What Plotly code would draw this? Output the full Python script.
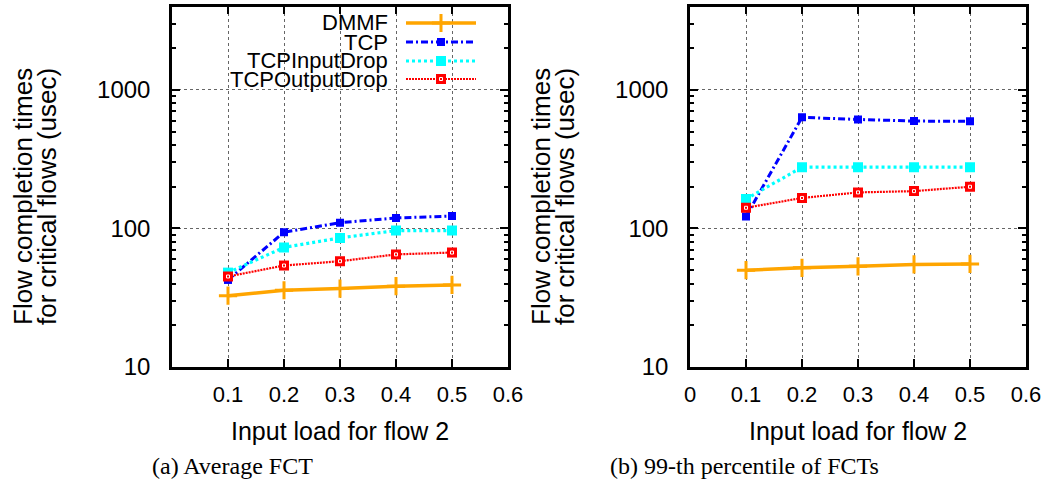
import math
import plotly.graph_objects as go

# ---------------- data ----------------
loads = [0.1, 0.2, 0.3, 0.4, 0.5]
series_names = ["DMMF", "TCP", "TCPInputDrop", "TCPOutputDrop"]

avg_dmmf = [32.7, 35.8, 36.8, 38.3, 39.1]
avg_tcp = [42.5, 94, 110, 119, 123]
avg_tcp_in = [48, 73, 85.5, 96.5, 96.5]
avg_tcp_out = [45, 54, 58, 65, 67]

p99_dmmf = [50, 52, 53.3, 55, 55.5]
p99_tcp = [122, 634, 612, 596, 593]
p99_tcp_in = [163, 277, 277, 277, 277]
p99_tcp_out = [141, 166, 182, 186, 200]

x_ticks_a = [0.1, 0.2, 0.3, 0.4, 0.5, 0.6]
x_ticks_b = [0, 0.1, 0.2, 0.3, 0.4, 0.5, 0.6]
y_ticks = [10, 100, 1000]
y_minor = [20, 30, 40, 50, 60, 70, 80, 90, 200, 300, 400, 500, 600, 700, 800, 900, 2000, 3000, 4000]

x_title = "Input load for flow 2"
y_title_1 = "Flow completion times"
y_title_2 = "for critical flows (usec)"
caption_a = "(a) Average FCT"
caption_b = "(b) 99-th percentile of FCTs"

# ---------------- styles ----------------
W, H = 1055, 491
SANS = "Liberation Sans, Arial, sans-serif"
SERIF = "Liberation Serif, Times New Roman, serif"

styles = {
    "DMMF": dict(color="#FFA500", width=3.5, dash="solid", symbol="cross-thin", size=13),
    "TCP": dict(color="#0000FF", width=3, dash="7px,3px,2px,3px", symbol="square", size=8),
    "TCPInputDrop": dict(color="#00FFFF", width=3.2, dash="3px,3px", symbol="square", size=10),
    "TCPOutputDrop": dict(color="#FF0000", width=2.2, dash="2px,1px", symbol="square", size=10),
}


def px_x(p):
    return p / W


def px_y(p):
    return 1 - p / H


def marker_for(s):
    if s["symbol"] == "cross-thin":
        return dict(symbol="cross-thin", size=s["size"], line=dict(color=s["color"], width=3), color=s["color"])
    return dict(symbol=s["symbol"], size=s["size"], color=s["color"], line=dict(width=0))


fig = go.Figure()


def add_series(name, xs, ys, xa, ya):
    s = styles[name]
    fig.add_trace(go.Scatter(
        x=xs, y=ys, mode="lines+markers", name=name, showlegend=False,
        line=dict(color=s["color"], width=s["width"], dash=s["dash"]),
        marker=marker_for(s), xaxis=xa, yaxis=ya,
    ))
    if name == "TCPOutputDrop":
        fig.add_trace(go.Scatter(
            x=xs, y=ys, mode="markers", showlegend=False, hoverinfo="skip",
            marker=dict(symbol="square-open", size=3, color="white", line=dict(color="white", width=1)),
            xaxis=xa, yaxis=ya,
        ))


panel_a = [avg_dmmf, avg_tcp, avg_tcp_in, avg_tcp_out]
panel_b = [p99_dmmf, p99_tcp, p99_tcp_in, p99_tcp_out]
for name, ys in zip(series_names, panel_a):
    add_series(name, loads, ys, "x", "y")
for name, ys in zip(series_names, panel_b):
    add_series(name, loads, ys, "x2", "y2")

# ---------------- custom gnuplot-style legend (text left, sample right) ----------------
legend_rows = [23, 42, 61, 79]
for name, row in zip(series_names, legend_rows):
    s = styles[name]
    fig.add_trace(go.Scatter(
        x=[0, 1], y=[row, row], mode="lines", showlegend=False, hoverinfo="skip",
        line=dict(color=s["color"], width=s["width"], dash=s["dash"]),
        xaxis="x3", yaxis="y3",
    ))
    fig.add_trace(go.Scatter(
        x=[0.5], y=[row], mode="markers", showlegend=False, hoverinfo="skip",
        marker=marker_for(s), xaxis="x3", yaxis="y3",
    ))
    if name == "TCPOutputDrop":
        fig.add_trace(go.Scatter(
            x=[0.5], y=[row], mode="markers", showlegend=False, hoverinfo="skip",
            marker=dict(symbol="square-open", size=3, color="white", line=dict(color="white", width=1)),
            xaxis="x3", yaxis="y3",
        ))
    fig.add_annotation(
        x=px_x(389), y=px_y(row), xref="paper", yref="paper",
        xanchor="right", yanchor="middle", text=name, showarrow=False, borderpad=0,
        font=dict(family=SANS, size=22, color="black"),
    )

# ---------------- axes ----------------
common_x = dict(
    range=[0, 0.6], showline=True, linecolor="black", linewidth=2.5, mirror="ticks",
    ticks="inside", ticklen=8, tickwidth=2, tickcolor="black", automargin=False,
    showgrid=True, gridcolor="#666666", griddash="dot", gridwidth=1, zeroline=False,
    tickfont=dict(family=SANS, size=22, color="black"), ticklabelstandoff=6,
)
common_y = dict(
    type="log", range=[1, math.log10(4000)], showline=True, linecolor="black", linewidth=2.5,
    mirror="ticks", ticks="inside", ticklen=8, tickwidth=2, tickcolor="black", automargin=False,
    tickvals=y_ticks, ticktext=[str(v) for v in y_ticks],
    minor=dict(tickvals=y_minor, ticks="inside", ticklen=4, tickwidth=1.5, tickcolor="black", showgrid=False),
    showgrid=True, gridcolor="#666666", griddash="dot", gridwidth=1, zeroline=False,
    tickfont=dict(family=SANS, size=24, color="black"), ticklabelstandoff=14,
)

y_dom = [px_y(367), px_y(6.5)]
fig.update_layout(
    width=W, height=H, margin=dict(l=0, r=0, t=0, b=0, autoexpand=False),
    paper_bgcolor="white", plot_bgcolor="rgba(0,0,0,0)", showlegend=False,
    xaxis=dict(common_x, domain=[px_x(172), px_x(508)], tickvals=x_ticks_a,
               ticktext=[str(v) for v in x_ticks_a], anchor="y"),
    yaxis=dict(common_y, domain=y_dom, anchor="x"),
    xaxis2=dict(common_x, domain=[px_x(690), px_x(1026)], tickvals=x_ticks_b,
                ticktext=[str(v) for v in x_ticks_b], anchor="y2"),
    yaxis2=dict(common_y, domain=y_dom, anchor="x2"),
    xaxis3=dict(domain=[px_x(406), px_x(476)], range=[0, 1], visible=False, anchor="y3",
                fixedrange=True, automargin=False),
    yaxis3=dict(domain=[0, 1], range=[H, 0], visible=False, anchor="x3", fixedrange=True,
                automargin=False),
)

# ---------------- titles & captions ----------------
for off in (0, 518):
    fig.add_annotation(x=px_x(340 + off), y=px_y(431), xref="paper", yref="paper",
                       text=x_title, showarrow=False, xanchor="center", yanchor="middle",
                       font=dict(family=SANS, size=25, color="black"))
    fig.add_annotation(x=px_x(23 + off), y=px_y(197), xref="paper", yref="paper",
                       text=y_title_1, showarrow=False, textangle=-90, xanchor="center", yanchor="middle",
                       font=dict(family=SANS, size=26, color="black"))
    fig.add_annotation(x=px_x(47 + off), y=px_y(197), xref="paper", yref="paper",
                       text=y_title_2, showarrow=False, textangle=-90, xanchor="center", yanchor="middle",
                       font=dict(family=SANS, size=26, color="black"))

fig.add_annotation(x=px_x(150), y=px_y(466), xref="paper", yref="paper", text=caption_a,
                   showarrow=False, xanchor="left", yanchor="middle",
                   font=dict(family=SERIF, size=24, color="black"))
fig.add_annotation(x=px_x(608), y=px_y(466), xref="paper", yref="paper", text=caption_b,
                   showarrow=False, xanchor="left", yanchor="middle",
                   font=dict(family=SERIF, size=24, color="black"))

# remove the browser's default 8px body margin so the figure fills the window exactly
fig.write_html("out.html", config={"displayModeBar": False},
               post_script="document.body.style.margin='0px';")
